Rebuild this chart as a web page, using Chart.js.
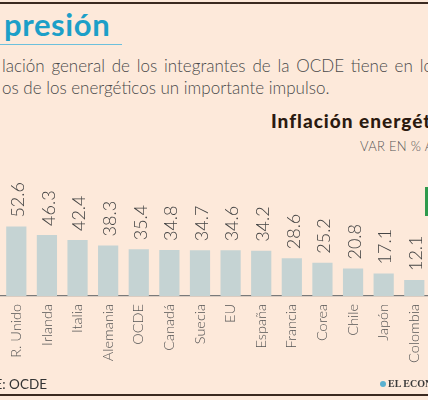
<!DOCTYPE html>
<html>
<head>
<meta charset="utf-8">
<script src="https://cdn.jsdelivr.net/npm/chart.js@4/dist/chart.umd.min.js"></script>
<style>
  html, body { margin:0; padding:0; width:428px; height:400px; overflow:hidden; background:#fde9da; }
  body { position:relative; font-family: Lato, "Open Sans", sans-serif; }
  .abs { position:absolute; white-space:nowrap; }
  #topline { left:0; top:2px; width:428px; height:2px; background:#3b2a20; }
  #botline { left:0; top:394px; width:428px; height:2px; background:#3b2a20; }
  #title { left:4px; top:4px; font-size:31px; font-weight:700; color:#1c9fc8; line-height:40px; letter-spacing:0.6px; }
  #tline { left:0; top:44px; width:122px; height:1px; background:#6cc0dc; }
  .sub { left:2px; font-size:17px; font-weight:300; color:#4a4a4a; line-height:20px; }
  #ctitle { left:271px; top:110px; font-size:19px; font-weight:900; color:#2b1a10; line-height:22px; letter-spacing:1px; }
  #cunit { left:360px; top:138px; font-size:13px; font-weight:300; color:#555; line-height:16px; letter-spacing:0.3px; }
  #source { right:381px; top:376px; font-size:13.5px; color:#333; line-height:16px; }
  #logo { left:380px; top:377px; font-family:"Liberation Serif", serif; font-weight:700; font-size:10px; color:#3a3a3a; line-height:14px; }
  #logo span { display:inline-block; width:6px; height:6px; border-radius:3px; background:#5ab0cf; margin-right:2px; }
  #green { left:425px; top:187px; width:4px; height:29px; background:#2f9a4c; }
  #wrap { position:absolute; left:0; top:0; width:440px; height:400px; }
</style>
</head>
<body>
<div class="abs" id="topline"></div>
<div class="abs" id="title">presión</div>
<div class="abs" id="tline"></div>
<div class="abs sub" style="top:56px; word-spacing:2.2px">lación general de los integrantes de la OCDE tiene en los precios</div>
<div class="abs sub" style="top:78px">os de los energéticos un importante impulso.</div>
<div class="abs" id="ctitle">Inflación energética</div>
<div class="abs" id="cunit">VAR EN % ANUAL</div>
<div class="abs" id="green"></div>
<div id="wrap"><canvas id="c"></canvas></div>
<div class="abs" id="source">FUENTE: OCDE</div>
<div class="abs" id="logo"><span></span>EL ECONOMISTA</div>
<div class="abs" id="botline"></div>
<script>
const categories = ["R. Unido","Irlanda","Italia","Alemania","OCDE","Canadá","Suecia","EU","España","Francia","Corea","Chile","Japón","Colombia"];
const values = [52.6,46.3,42.4,38.3,35.4,34.8,34.7,34.6,34.2,28.6,25.2,20.8,17.1,12.1];

const valueLabels = {
  id: 'valueLabels',
  afterDatasetsDraw(chart) {
    const ctx = chart.ctx;
    const meta = chart.getDatasetMeta(0);
    ctx.save();
    ctx.font = '300 18px Lato, sans-serif';
    ctx.fillStyle = '#454545';
    ctx.textAlign = 'left';
    ctx.textBaseline = 'middle';
    meta.data.forEach((bar, i) => {
      ctx.save();
      ctx.translate(bar.x + 2, bar.y - 9);
      ctx.rotate(-Math.PI / 2);
      ctx.fillText(values[i].toFixed(1), 0, 0);
      ctx.restore();
    });
    ctx.restore();
  }
};

new Chart(document.getElementById('c'), {
  type: 'bar',
  data: {
    labels: categories,
    datasets: [{ data: values, backgroundColor: '#c5d3d3', barPercentage: 0.66, categoryPercentage: 1 }]
  },
  options: {
    responsive: true,
    maintainAspectRatio: false,
    animation: false,
    layout: { padding: { top: 164, left: 1, right: 9, bottom: 0 } },
    plugins: { legend: { display: false }, tooltip: { enabled: false } },
    scales: {
      x: {
        offset: true,
        grid: { display: false, drawTicks: false },
        border: { display: true, color: '#7a7a7a', width: 1.2 },
        ticks: {
          autoSkip: false, maxRotation: 90, minRotation: 90, padding: 8,
          color: '#555', font: { family: 'Lato, sans-serif', size: 14.5, weight: '300' }
        },
        afterFit(scale) { scale.height = 104; }
      },
      y: { display: false, min: 0, max: 100 }
    }
  },
  plugins: [valueLabels]
});
</script>
</body>
</html>
